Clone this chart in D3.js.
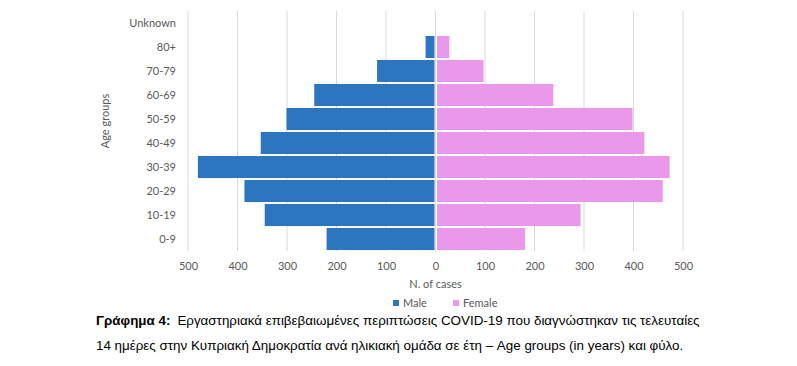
<!DOCTYPE html>
<html><head><meta charset="utf-8">
<script src="https://cdn.jsdelivr.net/npm/d3@7"></script>
<style>body{margin:0;background:#fff}</style>
</head><body>
<svg id="c" width="797" height="366"></svg>
<script>
const categories = ["0-9","10-19","20-29","30-39","40-49","50-59","60-69","70-79","80+","Unknown"];
const male   = [220,345,386,480,353,301,245,118,20,0];
const female = [181,293,459,473,422,398,238,97,28,0];
const tickValues = [-500,-400,-300,-200,-100,0,100,200,300,400,500];
const seriesNames = ["Male","Female"];
const colors = {Male:"#2E75C0", Female:"#EA98EA"};

const svg = d3.select("#c");
const font = "Lato, 'Open Sans', sans-serif";
const x = d3.scaleLinear().domain([-500,500]).range([188,683]);
const y = d3.scaleBand().domain(categories.slice().reverse()).range([11,251]).paddingInner(0.08).paddingOuter(0.04);

// gridlines
svg.append("g").selectAll("line").data(tickValues).join("line")
  .attr("x1",d=>x(d)).attr("x2",d=>x(d)).attr("y1",11).attr("y2",251)
  .attr("stroke","#d9d9d9").attr("stroke-width",1);

// bars
const g = svg.append("g");
g.selectAll("rect.m").data(categories).join("rect").attr("class","m")
  .attr("x",(d,i)=>x(-male[i])).attr("width",(d,i)=>x(0)-x(-male[i])-1)
  .attr("y",d=>y(d)).attr("height",y.bandwidth()).attr("fill",colors.Male);
g.selectAll("rect.f").data(categories).join("rect").attr("class","f")
  .attr("x",x(0)+1.5).attr("width",(d,i)=>Math.max(0,x(female[i])-x(0)-1.5))
  .attr("y",d=>y(d)).attr("height",y.bandwidth()).attr("fill",colors.Female);

// y axis labels
const ya = svg.append("g").attr("transform","translate(176,0)")
  .call(d3.axisLeft(y).tickSize(0).tickPadding(0));
ya.select(".domain").remove();
ya.selectAll("text").attr("font-family",font).attr("font-size",11).attr("fill","#595959");

// x axis labels
const xa = svg.append("g").attr("transform","translate(0,262)")
  .call(d3.axisBottom(x).tickValues(tickValues).tickSize(0).tickPadding(0).tickFormat(d=>Math.abs(d)));
xa.select(".domain").remove();
xa.selectAll("text").attr("font-family",font).attr("font-size",11).attr("fill","#595959");

svg.append("text").attr("x",x(0)).attr("y",288).attr("text-anchor","middle")
  .attr("font-family",font).attr("font-size",11).attr("fill","#595959").text("N. of cases");
svg.append("text").attr("transform","translate(109,121) rotate(-90)").attr("text-anchor","middle")
  .attr("font-family",font).attr("font-size",11).attr("fill","#595959").text("Age groups");

// legend
const leg = [{n:"Male",x:393},{n:"Female",x:453}];
const lg = svg.append("g").selectAll("g").data(leg).join("g").attr("transform",d=>`translate(${d.x},0)`);
lg.append("rect").attr("x",0).attr("y",300).attr("width",6).attr("height",6).attr("fill",d=>colors[d.n]);
lg.append("text").attr("x",10).attr("y",307).attr("font-family",font).attr("font-size",11).attr("fill","#595959").text(d=>d.n);

// caption
const cap = svg.append("g").attr("font-family","'Liberation Sans', Arial, sans-serif").attr("font-size",13.4).attr("fill","#000");
const t1 = cap.append("text").attr("x",96).attr("y",325);
t1.append("tspan").attr("font-weight","bold").text("Γράφημα 4:");
t1.append("tspan").attr("dx",7).text("Εργαστηριακά επιβεβαιωμένες περιπτώσεις COVID-19 που διαγνώστηκαν τις τελευταίες");
cap.append("text").attr("x",96).attr("y",350).text("14 ημέρες στην Κυπριακή Δημοκρατία ανά ηλικιακή ομάδα σε έτη – Age groups (in years) και φύλο.");
</script>
</body></html>
